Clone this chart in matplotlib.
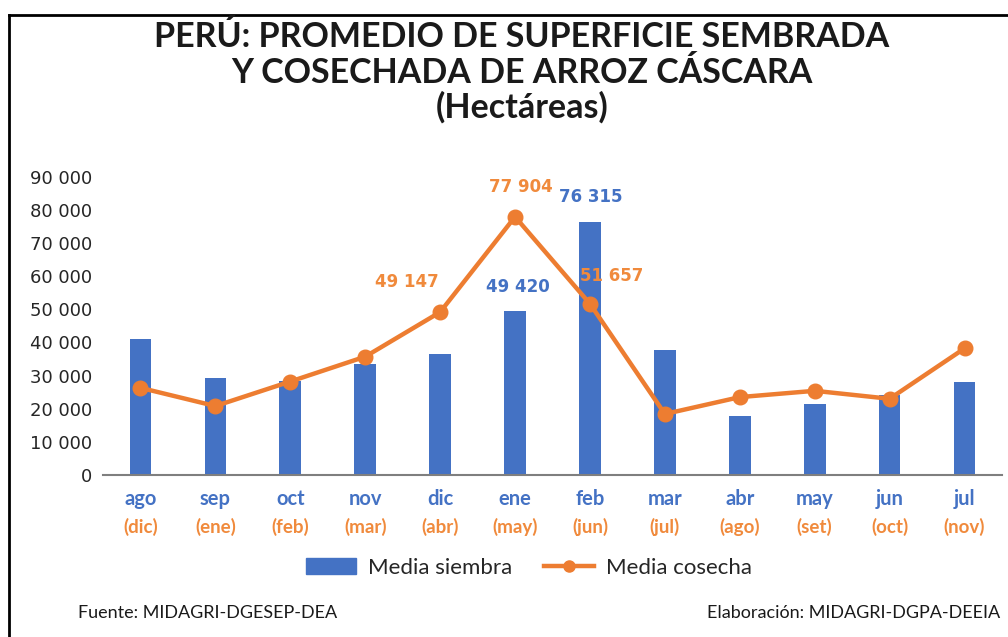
import matplotlib
matplotlib.use("Agg")
import matplotlib.pyplot as plt
from matplotlib.lines import Line2D
from matplotlib.patches import Patch

months = ["ago", "sep", "oct", "nov", "dic", "ene", "feb", "mar", "abr", "may", "jun", "jul"]
harvest_months = ["(dic)", "(ene)", "(feb)", "(mar)", "(abr)", "(may)", "(jun)", "(jul)", "(ago)", "(set)", "(oct)", "(nov)"]
siembra = [41000, 29300, 28300, 33400, 36500, 49420, 76315, 37600, 17800, 21300, 24100, 28000]
cosecha = [26300, 20800, 28200, 35700, 49147, 77904, 51657, 18400, 23500, 25400, 23000, 38200]
yticks = [0, 10000, 20000, 30000, 40000, 50000, 60000, 70000, 80000, 90000]
ytick_labels = ["0", "10 000", "20 000", "30 000", "40 000", "50 000", "60 000", "70 000", "80 000", "90 000"]

BLUE = "#4472C4"
ORANGE = "#ED7D31"
LBL_OR = "#F08A3C"

W, H = 1008, 637
fig = plt.figure(figsize=(W / 100, H / 100), dpi=100)

def fx(px):
    return px / W

def fy(py):
    return 1 - py / H

ax = fig.add_axes([fx(103), fy(475), fx(1002) - fx(103), fy(176.7) - fy(475)])
x = list(range(len(months)))
ax.bar(x, siembra, width=0.29, color=BLUE, zorder=2)
ax.plot(x, cosecha, color=ORANGE, lw=3.2, marker="o", ms=10.5, zorder=3)
ax.set_xlim(-0.5, len(months) - 0.5)
ax.set_ylim(0, 90000)
ax.set_yticks(yticks)
ax.set_yticklabels(ytick_labels, fontsize=13, color="#262626", family="DejaVu Sans")
ax.tick_params(axis="y", length=0, pad=8)
ax.set_xticks([])
for s in ["top", "right", "left"]:
    ax.spines[s].set_visible(False)
ax.spines["bottom"].set_color("#7F7F7F")
ax.spines["bottom"].set_linewidth(1.5)

# x labels (two rows)
for i in x:
    ax.annotate(months[i], xy=(i, 0), xycoords="data", xytext=(0, -24), textcoords="offset pixels",
                ha="center", va="center", fontsize=14.5, fontweight="bold", color=BLUE, family="Lato")
    ax.annotate(harvest_months[i], xy=(i, 0), xycoords="data", xytext=(0, -52), textcoords="offset pixels",
                ha="center", va="center", fontsize=13.5, fontweight="bold", color=LBL_OR, family="Lato")

# data labels
lbl = dict(fontsize=12, fontweight="bold", family="DejaVu Sans", ha="center", va="center")
def fmt(v):
    return f"{v:,}".replace(",", " ")
ax.annotate(fmt(cosecha[4]), xy=(4, cosecha[4]), xytext=(-33, 30), textcoords="offset pixels", color=LBL_OR, **lbl)
ax.annotate(fmt(cosecha[5]), xy=(5, cosecha[5]), xytext=(6, 30), textcoords="offset pixels", color=LBL_OR, **lbl)
ax.annotate(fmt(cosecha[6]), xy=(6, cosecha[6]), xytext=(22, 28), textcoords="offset pixels", color=LBL_OR, **lbl)
ax.annotate(fmt(siembra[5]), xy=(5, siembra[5]), xytext=(3, 24), textcoords="offset pixels", color=BLUE, **lbl)
ax.annotate(fmt(siembra[6]), xy=(6, siembra[6]), xytext=(1, 25), textcoords="offset pixels", color=BLUE, **lbl)

# title
tkw = dict(ha="center", va="center", fontsize=24.5, fontweight="bold", color="#1a1a1a", family="Lato")
fig.text(fx(522), fy(37), "PERÚ: PROMEDIO DE SUPERFICIE SEMBRADA", **tkw)
fig.text(fx(522), fy(73), "Y COSECHADA DE ARROZ CÁSCARA", **tkw)
fig.text(fx(522), fy(107), "(Hectáreas)", **tkw)

# legend
handles = [Patch(facecolor=BLUE, edgecolor=BLUE),
           Line2D([0], [0], color=ORANGE, lw=3.2, marker="o", ms=8)]
fig.legend(handles, ["Media siembra", "Media cosecha"], loc="center", bbox_to_anchor=(fx(529), fy(568)),
           ncol=2, frameon=False, prop={"family": "Lato", "size": 16}, handlelength=2.25, handleheight=0.75,
           columnspacing=1.45, handletextpad=0.55, labelcolor="#262626")

# footer
fig.text(fx(78), fy(613), "Fuente: MIDAGRI-DGESEP-DEA", ha="left", va="center", fontsize=13, family="Lato", color="#1a1a1a")
fig.text(fx(1000), fy(613), "Elaboración: MIDAGRI-DGPA-DEEIA", ha="right", va="center", fontsize=13, family="Lato", color="#1a1a1a")

# frame lines
fig.add_artist(Line2D([fx(9), 1], [fy(15), fy(15)], color="black", lw=2))
fig.add_artist(Line2D([fx(9), fx(9)], [0, fy(15)], color="black", lw=2))

fig.savefig("out.png", dpi=100)
